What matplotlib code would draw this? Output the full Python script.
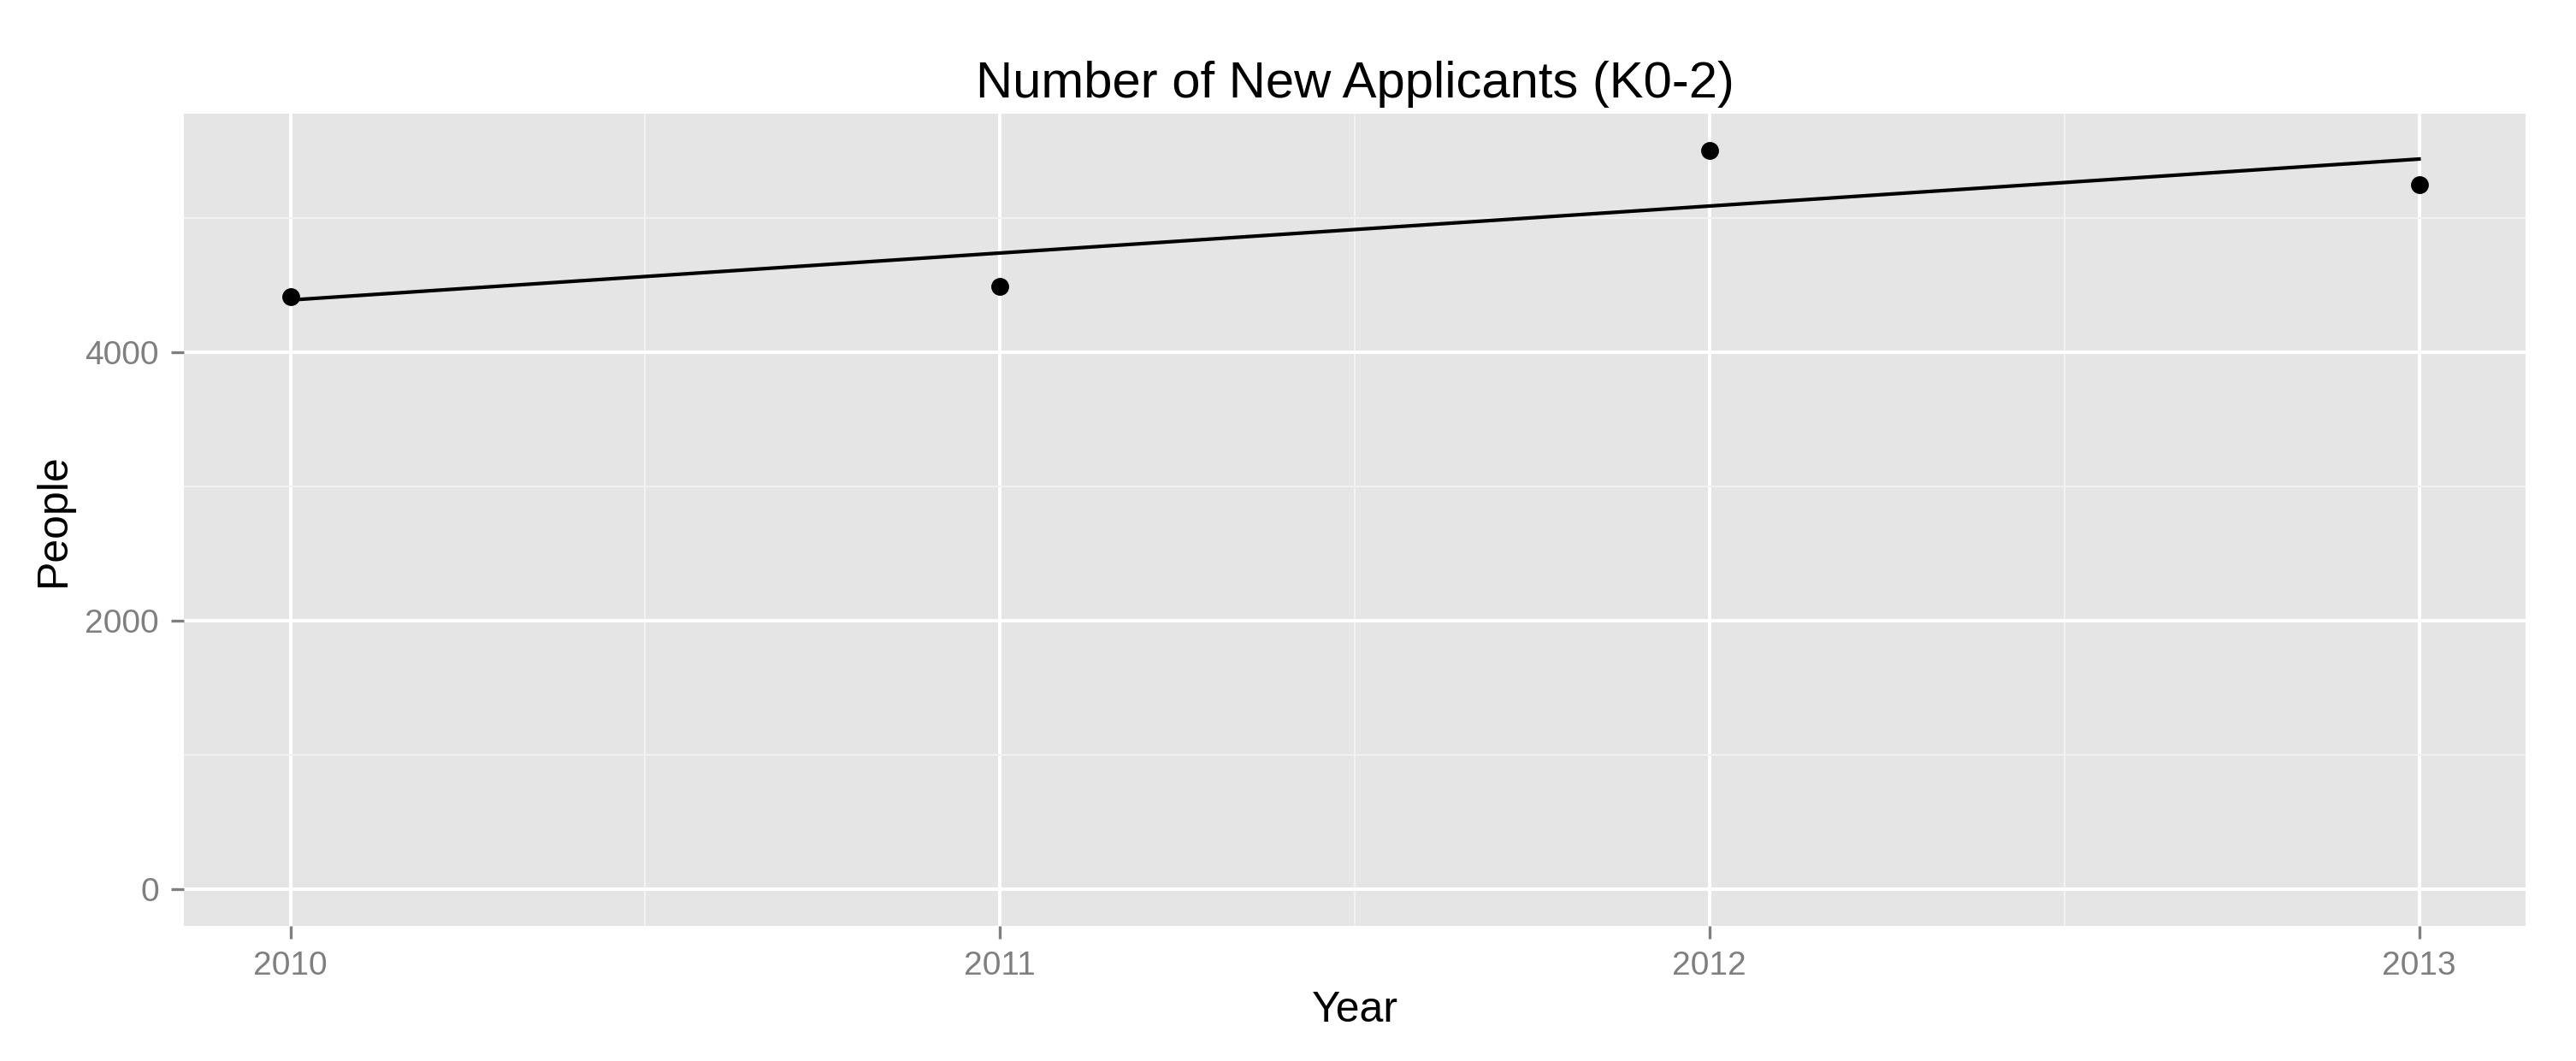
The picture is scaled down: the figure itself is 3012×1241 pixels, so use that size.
import matplotlib
matplotlib.use("Agg")
import matplotlib.pyplot as plt
import numpy as np
from matplotlib.ticker import MultipleLocator

years = [2010, 2011, 2012, 2013]
applicants = [4415, 4490, 5500, 5245]
y_ticks = [0, 2000, 4000]

plt.rcParams["font.family"] = ["Liberation Sans", "DejaVu Sans"]

fig = plt.figure(figsize=(15.06, 6.205), dpi=200)
ax = fig.add_axes([0.0714, 0.1273, 0.9090, 0.7655])
ax.set_facecolor("#E5E5E5")
for s in ax.spines.values():
    s.set_visible(False)

# linear fit like geom_smooth(method="lm", se=FALSE)
slope, icpt = np.polyfit(years, applicants, 1)
xs = np.array([years[0], years[-1]])
ax.plot(xs, slope * xs + icpt, color="black", lw=1.5, zorder=3)
ax.plot(years, applicants, "o", color="black", ms=6.5, zorder=4)

ax.set_xlim(2010 - 0.15, 2013 + 0.15)
ax.set_ylim(-275, 5775)
ax.set_xticks(years)
ax.set_yticks(y_ticks)
ax.xaxis.set_minor_locator(MultipleLocator(0.5))
ax.yaxis.set_minor_locator(MultipleLocator(1000))
ax.grid(which="major", color="white", lw=1.4)
ax.grid(which="minor", color="#F2F2F2", lw=0.7)
ax.set_axisbelow(True)
ax.tick_params(which="major", length=5.5, width=1.2, color="#7F7F7F",
               labelcolor="#7F7F7F", labelsize=14, pad=5)
ax.tick_params(which="minor", length=0)

ax.set_title("Number of New Applicants (K0-2)", fontsize=21.5, pad=7)
ax.set_xlabel("Year", fontsize=18, labelpad=4)
ax.set_ylabel("People", fontsize=18, labelpad=5)

fig.savefig("out.png", dpi=200)
